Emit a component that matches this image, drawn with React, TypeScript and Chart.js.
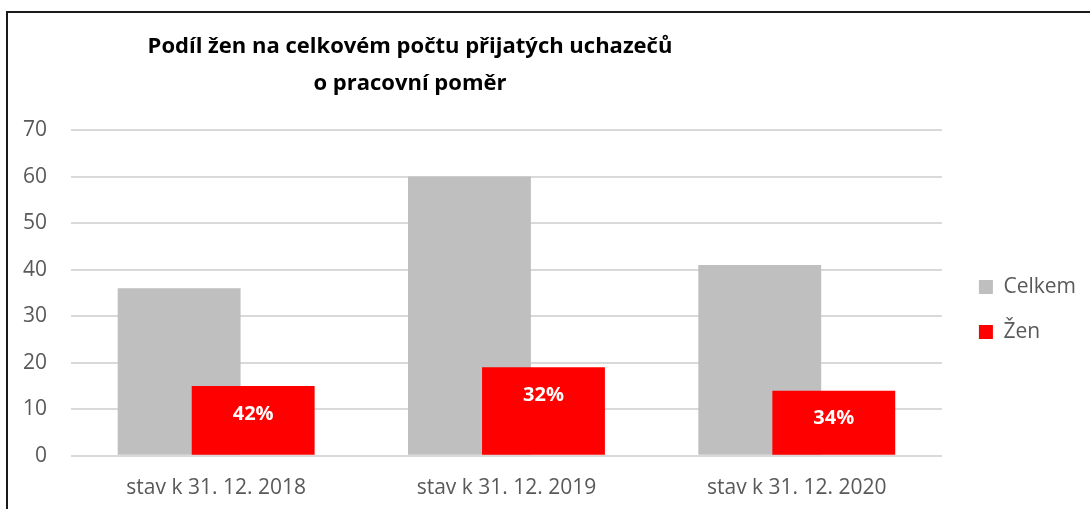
import React, { useEffect, useRef } from 'react';
import { Chart, registerables } from 'chart.js';

Chart.register(...registerables);

const categories = ['stav k 31. 12. 2018', 'stav k 31. 12. 2019', 'stav k 31. 12. 2020'];
const seriesNames = ['Celkem', 'Žen'];
const celkem = [36, 60, 41];
const zen = [15, 19, 14];
const titleLines = ['Podíl žen na celkovém počtu přijatých uchazečů', 'o pracovní poměr'];
const yMin = 0;
const yMax = 70;
const yStep = 10;

const FONT = '"Open Sans", sans-serif';
const TICK_COLOR = '#595959';

const drawOrderPlugin = {
  id: 'drawOrder',
  beforeDatasetsDraw(chart: any) {
    const metas = chart.getSortedVisibleDatasetMetas();
    for (const m of metas) m.controller.draw();
    return false;
  },
};

const overlayPlugin = {
  id: 'overlay',
  afterDraw(chart: any) {
    const ctx = chart.ctx;
    ctx.save();
    ctx.fillStyle = '#000000';
    ctx.textAlign = 'center';
    ctx.textBaseline = 'middle';
    ctx.font = `bold 22px ${FONT}`;
    ctx.fillText(titleLines[0], 410, 47);
    ctx.fillText(titleLines[1], 410, 84);
    const meta = chart.getDatasetMeta(1);
    ctx.fillStyle = '#ffffff';
    ctx.font = `bold 20px ${FONT}`;
    meta.data.forEach((bar: any, i: number) => {
      const pct = Math.round((zen[i] / celkem[i]) * 100) + '%';
      ctx.fillText(pct, bar.x, bar.y + 28);
    });
    ctx.restore();
  },
};

export default function App() {
  const canvasRef = useRef<HTMLCanvasElement | null>(null);

  useEffect(() => {
    if (!canvasRef.current) return;
    const chart = new Chart(canvasRef.current, {
      type: 'bar',
      data: {
        labels: categories,
        datasets: [
          {
            label: seriesNames[0],
            data: celkem,
            backgroundColor: '#bfbfbf',
            categoryPercentage: 0.51,
            barPercentage: 1.66,
          },
          {
            label: seriesNames[1],
            data: zen,
            backgroundColor: '#ff0000',
            categoryPercentage: 0.51,
            barPercentage: 1.66,
          },
        ],
      },
      options: {
        animation: false,
        responsive: false,
        devicePixelRatio: 1,
        layout: { padding: { top: 130, left: 23, right: 4, bottom: 4 } },
        plugins: {
          title: { display: false },
          tooltip: { enabled: false },
          legend: {
            position: 'right',
            fullSize: false,
            title: { display: true, text: '', font: { size: 15 }, padding: 7.5 },
            labels: {
              boxWidth: 14,
              boxHeight: 14,
              padding: 24,
              color: TICK_COLOR,
              font: { family: FONT, size: 21 },
            },
          },
        },
        scales: {
          x: {
            grid: { display: false, drawTicks: true, tickLength: 16 },
            border: { display: false },
            ticks: { color: TICK_COLOR, font: { family: FONT, size: 21 }, padding: 4 },
          },
          y: {
            min: yMin,
            max: yMax,
            border: { display: false },
            grid: { color: '#d9d9d9', lineWidth: 2, drawTicks: true, tickLength: 24, tickColor: 'rgba(0,0,0,0)' },
            ticks: { stepSize: yStep, color: TICK_COLOR, font: { family: FONT, size: 21 }, padding: 0 },
          },
          yR: {
            type: 'linear',
            position: 'right',
            grid: { display: false },
            border: { display: false },
            ticks: { display: false },
            afterFit: (s: any) => {
              s.width = 13;
            },
          },
        },
      } as any,
      plugins: [drawOrderPlugin, overlayPlugin],
    });
    return () => chart.destroy();
  }, []);

  return (
    <div
      style={{
        position: 'fixed',
        left: 0,
        top: 0,
        width: 1090,
        height: 509,
        overflow: 'hidden',
        background: '#ffffff',
      }}
    >
      <canvas ref={canvasRef} width={1090} height={509} style={{ position: 'absolute', left: 0, top: 0 }} />
      <div
        style={{
          position: 'absolute',
          left: 6,
          top: 11,
          right: -20,
          bottom: -20,
          border: '2px solid #1a1a1a',
          pointerEvents: 'none',
        }}
      />
    </div>
  );
}
